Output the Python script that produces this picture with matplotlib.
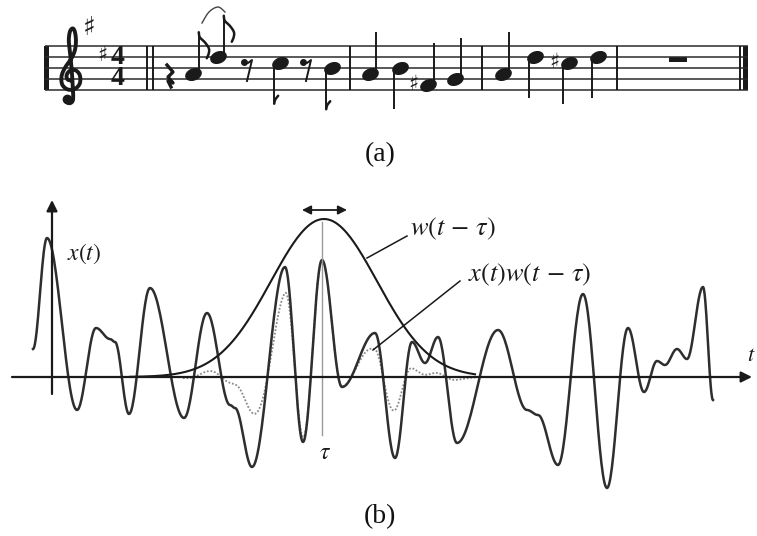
import numpy as np
import matplotlib
matplotlib.use("Agg")
import matplotlib.pyplot as plt
from matplotlib.path import Path
from matplotlib.patches import Rectangle

plt.rcParams["mathtext.fontset"] = "stix"

# ---------------------------------------------------------------- data ----
# (a) melody: pitch names, note values and stem directions
note_names = ["A4", "D5", "C5", "B4", "A4", "B4", "F#4", "G4", "A4", "D5", "C#5", "D5"]
note_values = ["8", "8", "8", "8", "4", "4", "4", "4", "4", "4", "4", "4"]
stem_dirs = ["up", "up", "down", "down", "up", "down", "up", "up", "up", "down", "down", "down"]
rest_values = ["4", "8", "8", "1"]
time_signature = ("4", "4")

# (b) signal x(t): turning points (t, amplitude)
sig_t = [-1.9, -0.5, 2.5, 4.4, 5.8, 6.3, 7.7, 9.8, 13.2, 15.5, 17.8, 18.3, 20.0,
         23.3, 25.1, 27.0, 29.0, 32.3, 34.3, 36.0, 37.3, 38.6, 40.5, 44.6, 47.5,
         48.6, 50.6, 53.1, 55.5, 57.6, 59.2, 60.5, 61.3, 62.5, 63.5, 65.1, 66.1]
sig_x = [2.8, 13.9, -3.3, 4.9, 3.8, 3.5, -3.7, 8.9, -4.1, 6.4, -2.8, -3.1, -9.0,
         11.0, -6.5, 11.7, -1.0, 4.4, -8.1, 3.5, 1.4, 4.0, -6.6, 4.7, -3.3,
         -3.8, -8.8, 8.3, -11.1, 4.9, -1.5, 1.6, 1.2, 2.8, 1.8, 9.0, -2.3]

# window w(t - tau)
tau = 27.2
win_sigma = 5.3
win_peak = 15.8
win_span = (7.8, 42.3)

# ------------------------------------------------------------- layout -----
W, H = 757, 536
STAFF_BOTTOM_PX = 90.0      # pixel row of the bottom staff line
HALF_SPACE = 5.5            # pixels per staff step
STEP = {"E4": 0, "F4": 1, "F#4": 1, "G4": 2, "A4": 3, "B4": 4,
        "C5": 5, "C#5": 5, "D5": 6, "E5": 7, "F5": 8}

note_x = [193, 218, 280, 332, 370, 400, 428, 455, 503, 535, 569, 598]
rest_x = [169, 247, 306, 678]
bar_x = [350, 482, 617]
double_bar_x = [147, 153]
staff_x = (45, 748)

INK = "#1a1a1a"


def smooth(points, n=14):
    """Catmull-Rom curve through a list of (x, y) points."""
    p = np.asarray(points, float)
    p = np.vstack([p[0], p, p[-1]])
    out = []
    for i in range(1, len(p) - 2):
        p0, p1, p2, p3 = p[i - 1], p[i], p[i + 1], p[i + 2]
        s = np.linspace(0, 1, n, endpoint=False)[:, None]
        out.append(0.5 * ((2 * p1) + (-p0 + p2) * s + (2 * p0 - 5 * p1 + 4 * p2 - p3) * s ** 2
                          + (-p0 + 3 * p1 - 3 * p2 + p3) * s ** 3))
    out.append(p[-2][None, :])
    return np.vstack(out)


fig = plt.figure(figsize=(W / 100, H / 100), dpi=100)
fig.patch.set_facecolor("white")

# ================================================================ (a) =====
ax1 = fig.add_axes([0, 1 - 130 / H, 1, 130 / H])
ax1.set_xlim(0, W)
ax1.set_ylim((STAFF_BOTTOM_PX - 130) / HALF_SPACE, STAFF_BOTTOM_PX / HALF_SPACE)
ax1.axis("off")


def px(x, dy_down, base_step):
    """Offset in pixels (right, down) from a point on the staff."""
    return x, base_step - dy_down / HALF_SPACE


# staff lines
for s in (0, 2, 4, 6, 8):
    ax1.plot(staff_x, [s, s], color="#2b2b2b", lw=1.1, solid_capstyle="butt")

# bar lines
for bx in bar_x + double_bar_x + [740]:
    ax1.plot([bx, bx], [0, 8], color=INK, lw=1.4, solid_capstyle="butt")
ax1.add_patch(Rectangle((44, 0), 4.5, 8, color=INK, lw=0))
ax1.add_patch(Rectangle((743, 0), 5, 8, color=INK, lw=0))

# treble clef
clef_uv = [(0.1, -0.15), (-0.3, -0.05), (-0.4, 0.35), (-0.1, 0.75), (0.4, 0.8),
           (0.8, 0.35), (0.8, -0.4), (0.35, -0.9), (-0.3, -0.95), (-0.8, -0.5),
           (-0.85, 0.3), (-0.5, 1.1), (0.0, 1.8), (0.35, 2.6), (0.45, 3.5),
           (0.35, 4.3), (0.15, 4.6), (-0.1, 4.3), (-0.2, 3.5), (-0.1, 2.5),
           (0.05, 1.0), (0.15, -0.5), (0.2, -1.5), (0.15, -2.0), (-0.1, -2.2),
           (-0.4, -2.1), (-0.45, -1.85)]
clef = smooth([(71 + 11 * u, 2 + 2 * v) for u, v in clef_uv])
ax1.plot(clef[:, 0], clef[:, 1], color=INK, lw=2.8, solid_capstyle="round")
ax1.plot([71 - 11 * 0.33], [2 - 2 * 1.85], "o", color=INK, ms=6)

# key signature and time signature
sharp_kw = dict(ha="center", va="center", color=INK, family="DejaVu Sans")
ax1.text(89, (STAFF_BOTTOM_PX - 28) / HALF_SPACE, "\u266f", fontsize=19, **sharp_kw)
ax1.text(102, (STAFF_BOTTOM_PX - 55) / HALF_SPACE, "\u266f", fontsize=15, **sharp_kw)
ax1.text(118, 4, "\n".join(time_signature), ha="center", va="center", fontsize=20,
         fontweight="bold", family="Liberation Serif", color=INK, linespacing=0.82)

# note heads
th = np.linspace(0, 2 * np.pi, 40)
ang = np.deg2rad(22)
ex, ey = 1.0 * np.cos(th), 0.68 * np.sin(th)
head = Path(np.column_stack([ex * np.cos(ang) - ey * np.sin(ang),
                             ex * np.sin(ang) + ey * np.cos(ang)]), closed=True)

STEM = 7.5
for x, name, val, d in zip(note_x, note_names, note_values, stem_dirs):
    s = STEP[name]
    ax1.plot([x], [s], marker=head, ms=11, color=INK, lw=0)
    if d == "up":
        sx, s_end = x + 5.8, s + STEM
    else:
        sx, s_end = x - 5.8, s - STEM
    ax1.plot([sx, sx], [s, s_end], color=INK, lw=1.4, solid_capstyle="butt")
    if val == "8":
        if d == "up":
            flag = [(0, 0), (1, 5), (6, 10), (10, 16), (10, 21), (8, 26)]
        else:
            flag = [(0, 0), (1, -4), (4, -8)]
        f = np.array([px(sx + dx, dy, s_end) for dx, dy in flag])
        f = smooth(f, 6)
        ax1.plot(f[:, 0], f[:, 1], color=INK, lw=1.8, solid_capstyle="round")
    if "#" in name:
        ax1.text(x - 15, s, "\u266f", fontsize=15, **sharp_kw)

# slur over the first two eighths
slur = smooth([px(202, 23 - 68, 4), px(209, 12 - 68, 4), px(218, 7 - 68, 4), px(225, 12 - 68, 4)], 10)
ax1.plot(slur[:, 0], slur[:, 1], color="#444444", lw=1.0)

# rests
for x, val in zip(rest_x, rest_values):
    if val == "4":
        pts = [(-2, -3), (4, 4), (-1, 9), (4, 15), (-1, 13), (2, 19)]
        r = np.array([px(x + dx, dy, 4) for dx, dy in pts])
        ax1.plot(r[:, 0], r[:, 1], color=INK, lw=2.4, solid_joinstyle="round")
    elif val == "8":
        ax1.plot(*px(x - 3, -6, 4), "o", color=INK, ms=4)
        pts = [(-3, -5), (1, -5), (5, -8), (0, 13)]
        r = np.array([px(x + dx, dy, 4) for dx, dy in pts])
        ax1.plot(r[:, 0], r[:, 1], color=INK, lw=1.4)
    else:
        ax1.add_patch(Rectangle((x - 9, 6 - 5 / HALF_SPACE), 18, 5 / HALF_SPACE,
                                color=INK, lw=0))

fig.text(380 / W, 1 - 155 / H, "(a)", ha="center", va="center", fontsize=20,
         family="Liberation Serif", color="#111111")

# ================================================================ (b) =====
ax2 = fig.add_axes([0, 1 - 500 / H, 1, 310 / H])
ax2.set_xlim(-5.2, 70.5)
ax2.set_ylim(-12.3, 18.7)
ax2.axis("off")

# signal: smooth half-cosine transitions between successive turning points
tt, xx = [], []
for i in range(len(sig_t) - 1):
    s = np.linspace(0, 1, 30, endpoint=False)
    w = (1 - np.cos(np.pi * s)) / 2
    tt.append(sig_t[i] + (sig_t[i + 1] - sig_t[i]) * s)
    xx.append(sig_x[i] + (sig_x[i + 1] - sig_x[i]) * w)
tt.append([sig_t[-1]])
xx.append([sig_x[-1]])
tt, xx = np.concatenate(tt), np.concatenate(xx)

# windowed signal (dotted)
win_rel = np.exp(-(tt - tau) ** 2 / (2 * win_sigma ** 2))
m = (tt > 13) & (tt < 43)
ax2.plot(tt[m], (xx * win_rel)[m], color="#8a8a8a", lw=1.3, ls=(0, (1, 1)))

ax2.plot(tt, xx, color="#2e2e2e", lw=1.8)

# window
tw = np.linspace(*win_span, 300)
ax2.plot(tw, win_peak * np.exp(-(tw - tau) ** 2 / (2 * win_sigma ** 2)), color=INK, lw=1.5)

# axes with arrow heads
arrow = dict(arrowstyle="-|>", color=INK, lw=1.6, mutation_scale=16, shrinkA=0, shrinkB=0)
ax2.annotate("", xy=(70.0, 0), xytext=(-4.0, 0), arrowprops=arrow)
ax2.annotate("", xy=(0, 17.7), xytext=(0, -1.7), arrowprops=arrow)

# tau marker and shift arrow
ax2.plot([tau - 0.2, tau - 0.2], [-5.8, 15.5], color="#9a9a9a", lw=1.0)
ax2.annotate("", xy=(29.5, 16.7), xytext=(25.0, 16.7),
             arrowprops=dict(arrowstyle="<|-|>", color=INK, lw=1.3, mutation_scale=13,
                             shrinkA=0, shrinkB=0))
ax2.text(27.3, -7.5, r"$\tau$", ha="center", va="center", fontsize=17, color=INK)

# labels and leader lines
ax2.text(1.5, 12.3, r"$x(t)$", ha="left", va="center", fontsize=17, color=INK)
ax2.plot([31.5, 35.5], [11.9, 14.1], color=INK, lw=1.1)
ax2.text(35.8, 14.8, r"$w(t\,-\,\tau)$", ha="left", va="center", fontsize=19, color=INK)
ax2.plot([32.1, 40.8], [2.7, 9.6], color=INK, lw=1.1)
ax2.text(41.6, 10.2, r"$x(t)w(t\,-\,\tau)$", ha="left", va="center", fontsize=19, color=INK)
ax2.text(69.5, 2.2, r"$t$", ha="left", va="center", fontsize=16, color=INK)

fig.text(380 / W, 1 - 517 / H, "(b)", ha="center", va="center", fontsize=20,
         family="Liberation Serif", color="#111111")

fig.savefig("out.png", dpi=100, facecolor="white")
